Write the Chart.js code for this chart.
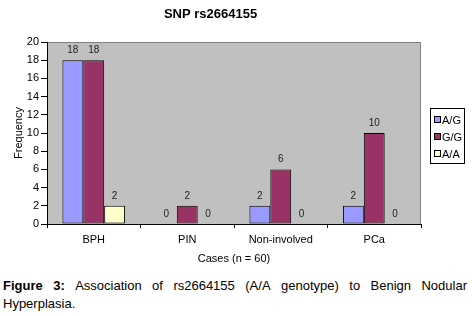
<!DOCTYPE html>
<html><head><meta charset="utf-8">
<script src="https://cdn.jsdelivr.net/npm/chart.js@4"></script>
<style>
html,body{margin:0;padding:0;background:#fff;width:472px;height:316px;overflow:hidden;font-family:"Liberation Sans",Arial,sans-serif;}
#wrap{position:absolute;left:0;top:0;width:472px;height:270px;}
#cap{position:absolute;left:3px;top:277px;width:464px;font-size:13px;line-height:18px;color:#000;}
#l1{white-space:nowrap;display:flex;justify-content:space-between;}
</style></head><body>
<div id="wrap"><canvas id="c" width="472" height="270"></canvas></div>
<div id="cap"><div id="l1"><span><b>Figure</b></span><span><b>3:</b></span><span>Association</span><span>of</span><span>rs2664155</span><span>(A/A</span><span>genotype)</span><span>to</span><span>Benign</span><span>Nodular</span></div><div>Hyperplasia.</div></div>
<script>
const categories = ["BPH", "PIN", "Non-involved", "PCa"];
const seriesNames = ["A/G", "G/G", "A/A"];
const agValues = [18, 0, 2, 2];
const ggValues = [18, 2, 6, 10];
const aaValues = [2, 0, 0, 0];
const yTicks = [0, 2, 4, 6, 8, 10, 12, 14, 16, 18, 20];
const colors = ["#9999FF", "#993366", "#FFFFCC"];

const FONT = "'Liberation Sans', Arial, sans-serif";

const bgPlugin = {
  id: 'bg',
  beforeDraw(chart) {
    const a = chart.chartArea, ctx = chart.ctx;
    ctx.save();
    ctx.fillStyle = '#C0C0C0';
    ctx.fillRect(a.left, a.top, a.right - a.left, a.bottom - a.top);
    ctx.strokeStyle = '#808080';
    ctx.lineWidth = 1;
    ctx.beginPath();
    ctx.moveTo(a.left, a.top + 0.5);
    ctx.lineTo(a.right - 0.5, a.top + 0.5);
    ctx.lineTo(a.right - 0.5, a.bottom);
    ctx.stroke();
    ctx.restore();
  },
  afterDatasetsDraw(chart) {
    const ctx = chart.ctx;
    ctx.save();
    ctx.font = "10px " + FONT;
    ctx.fillStyle = '#222';
    ctx.textAlign = 'center';
    ctx.textBaseline = 'middle';
    chart.data.datasets.forEach((ds, i) => {
      const meta = chart.getDatasetMeta(i);
      meta.data.forEach((el, j) => {
        ctx.fillText(String(ds.data[j]), el.x, el.y - 10);
      });
    });
    // legend
    const lx = 430, ly = 108, lw = 34, lh = 55;
    ctx.fillStyle = '#fff';
    ctx.fillRect(lx, ly, lw, lh);
    ctx.strokeStyle = '#000';
    ctx.lineWidth = 1;
    ctx.strokeRect(lx + 0.5, ly + 0.5, lw, lh);
    ctx.font = "11px " + FONT;
    ctx.textAlign = 'left';
    chart.data.datasets.forEach((ds, i) => {
      const cy = ly + 12 + i * 17;
      ctx.fillStyle = ds.backgroundColor;
      ctx.fillRect(lx + 4, cy - 3, 6, 6);
      ctx.strokeStyle = '#000';
      ctx.strokeRect(lx + 4.5, cy - 3.5, 6, 6);
      ctx.fillStyle = '#000';
      ctx.fillText(ds.label, lx + 12, cy + 0.5);
    });
    ctx.restore();
  }
};

new Chart(document.getElementById('c'), {
  type: 'bar',
  data: {
    labels: categories,
    datasets: [
      { label: seriesNames[0], data: agValues, backgroundColor: colors[0] },
      { label: seriesNames[1], data: ggValues, backgroundColor: colors[1] },
      { label: seriesNames[2], data: aaValues, backgroundColor: colors[2] }
    ].map(d => Object.assign(d, { borderColor: '#000', borderWidth: 1, borderSkipped: false, categoryPercentage: 0.67, barPercentage: 1.0 }))
  },
  options: {
    responsive: false,
    animation: false,
    devicePixelRatio: 1,
    layout: { padding: { left: 0, right: 51, top: 0, bottom: 0 } },
    plugins: {
      legend: { display: false },
      tooltip: { enabled: false },
      title: {
        display: true,
        text: 'SNP rs2664155',
        color: '#000',
        font: { family: FONT, size: 13, weight: 'bold' },
        padding: { top: 7, bottom: 19.4 }
      }
    },
    scales: {
      x: {
        grid: { display: true, drawOnChartArea: false, color: '#000', tickLength: 4, offset: true },
        border: { color: '#000' },
        ticks: { color: '#000', font: { family: FONT, size: 11 }, padding: 5, maxRotation: 0 },
        title: { display: true, text: 'Cases (n = 60)', color: '#000', font: { family: FONT, size: 11 }, padding: { top: 4, bottom: 4 } },
        afterFit(s) { s.height = 46; }
      },
      y: {
        min: 0, max: 20,
        afterBuildTicks(s) { s.ticks = yTicks.map(v => ({ value: v })); },
        grid: { display: true, drawOnChartArea: false, color: '#000', tickLength: 6 },
        border: { color: '#000' },
        ticks: { color: '#000', font: { family: FONT, size: 11 }, padding: 2 },
        title: { display: true, text: 'Frequency', color: '#000', font: { family: FONT, size: 11 }, padding: { top: 12, bottom: 0 } },
        afterFit(s) { s.width = 47; }
      }
    }
  },
  plugins: [bgPlugin]
});
</script>
</body></html>
